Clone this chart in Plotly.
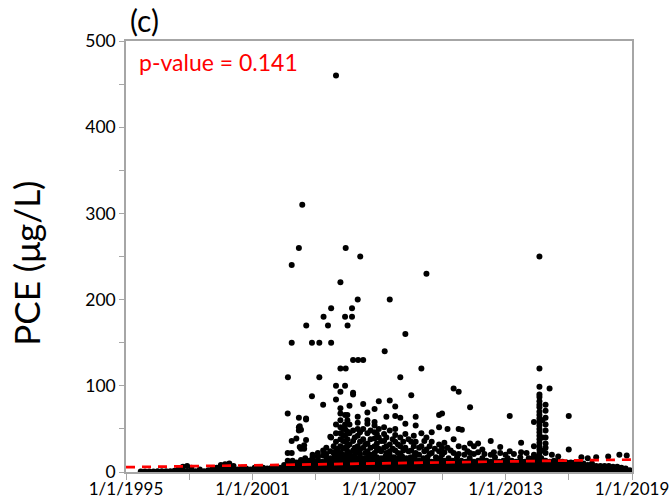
import plotly.graph_objects as go

# ---------------- data ----------------
x_tick_years = [1995, 1998, 2001, 2004, 2007, 2010, 2013, 2016, 2019]
x_tick_labels = ["1/1/1995", "", "1/1/2001", "", "1/1/2007", "", "1/1/2013", "", "1/1/2019"]
y_tick_vals = [0, 100, 200, 300, 400, 500]
y_minor_vals = [50, 150, 250, 350, 450]

# dense low-concentration band: sampling date (decimal year) -> concentrations
band_years = [
    1995.7, 1995.9, 1996.1, 1996.3, 1996.5, 1996.7, 1996.9, 1997.1, 1997.3, 1997.5,
    1997.7, 1997.9, 1998.1, 1998.3, 1998.5, 1998.7, 1998.9, 1999.1, 1999.3, 1999.5,
    1999.7, 1999.9, 2000.1, 2000.3, 2000.5, 2000.7, 2000.9, 2001.1, 2001.3, 2001.5,
    2001.7, 2001.9, 2002.1, 2002.3,
    2002.5, 2002.7, 2002.9, 2003.1, 2003.3, 2003.5, 2003.7, 2003.9, 2004.1, 2004.3,
    2004.5, 2004.7, 2004.9, 2005.1, 2005.3, 2005.5, 2005.7, 2005.9, 2006.1, 2006.3,
    2006.5, 2006.7, 2006.9, 2007.1, 2007.3, 2007.5, 2007.7, 2007.9, 2008.1, 2008.3,
    2008.5, 2008.7, 2008.9, 2009.1, 2009.3, 2009.5, 2009.7, 2009.9, 2010.1, 2010.3,
    2010.5, 2010.7, 2010.9, 2011.1, 2011.3, 2011.5, 2011.7, 2011.9, 2012.1, 2012.3,
    2012.5, 2012.7, 2012.9, 2013.1, 2013.3, 2013.5, 2013.7, 2013.9, 2014.1, 2014.3,
    2014.5, 2014.7, 2014.9, 2015.1, 2015.3, 2015.5, 2015.7, 2015.9,
    2016.1, 2016.3, 2016.5, 2016.7, 2016.9, 2017.1, 2017.3, 2017.5, 2017.7, 2017.9,
    2018.1, 2018.3, 2018.5, 2018.7, 2018.9,
]
band_conc = [
    [0.5], [0.5], [0.5], [0.5], [0.8], [0.8], [1], [1], [1.5], [1, 4],
    [1, 6], [1, 7], [1, 5], [1], [1, 3], [1], [1, 2], [1, 4], [1, 5], [1, 4, 8],
    [1, 6, 9], [1, 5, 10], [1, 4, 7], [1, 3], [1, 5], [1, 4], [1, 3], [1, 5], [1, 4], [1, 5],
    [1, 4], [1, 5], [1, 4], [1, 5],
    [1, 4, 8], [1, 4, 8, 12], [1, 5, 9, 13], [1, 4, 8, 11], [1, 5, 9, 14], [1, 4, 8, 12, 16],
    [1, 5, 9, 13], [1, 4, 8, 12], [1, 5, 9, 14, 18], [1, 4, 8, 12],
    [1, 5, 9, 13, 17], [1, 4, 8, 12, 16], [1, 5, 9, 13, 18], [1, 4, 8, 12, 16, 20],
    [1, 5, 9, 13, 17], [1, 4, 8, 12, 16, 20], [1, 5, 9, 13, 17], [1, 4, 8, 12, 16],
    [1, 5, 9, 13, 17, 21], [1, 4, 8, 12, 16],
    [1, 5, 9, 13, 18], [1, 4, 8, 12, 16, 20], [1, 5, 9, 13, 17], [1, 4, 8, 12, 16],
    [1, 5, 9, 13, 18], [1, 4, 8, 12, 16, 20], [1, 5, 9, 13, 17], [1, 4, 8, 12, 16],
    [1, 5, 9, 13, 18], [1, 4, 8, 12, 16],
    [1, 5, 9, 13, 17], [1, 4, 8, 12, 16, 20], [1, 5, 9, 13], [1, 4, 8, 12, 16],
    [1, 5, 9, 13, 17], [1, 4, 8, 12], [1, 5, 9, 13, 17], [1, 4, 8, 12, 16],
    [1, 5, 9, 13], [1, 4, 8, 12, 16],
    [1, 5, 9, 13], [1, 4, 8, 12, 17], [1, 5, 9, 13], [1, 4, 8, 12], [1, 5, 9, 13, 16],
    [1, 4, 8, 12], [1, 5, 9, 13], [1, 4, 8, 12, 16], [1, 5, 9, 13], [1, 4, 8, 12],
    [1, 5, 9, 13, 17], [1, 4, 8, 12], [1, 5, 9, 13], [1, 4, 8, 12, 16], [1, 5, 9, 13],
    [1, 4, 8, 12], [1, 5, 9, 13, 17], [1, 4, 8, 12], [1, 5, 9, 13, 16], [1, 4, 8, 12, 16],
    [1, 5, 9, 13, 17], [1, 4, 8, 12, 16], [1, 5, 9, 13], [1, 4, 8, 12], [1, 5, 9, 13],
    [1, 4, 8, 12], [1, 5, 9, 12], [1, 4, 8, 11],
    [1, 4, 8, 11], [1, 4, 8, 11], [1, 4, 8, 10], [1, 4, 8, 10], [1, 4, 8], [1, 4, 7, 10],
    [1, 4, 7], [1, 4, 7], [1, 4, 7], [1, 4, 7],
    [1, 3, 6], [1, 3, 6], [1, 3, 5], [1, 3, 4], [1, 2],
]

# moderate concentrations (about 15-90 ug/L)
mid_years = [
    2002.67, 2002.86, 2003.08, 2003.2, 2003.24, 2003.3, 2003.45, 2003.54, 2003.85, 2004.1,
    2004.35, 2004.5, 2004.69, 2004.73, 2004.85, 2004.96, 2005.05, 2005.17, 2005.3, 2005.39,
    2005.5, 2005.6, 2005.77, 2005.85, 2005.99, 2006.1, 2006.25, 2006.35, 2006.45, 2006.6,
    2006.79, 2006.9, 2006.99, 2007.1, 2007.24, 2007.35, 2007.51, 2007.65, 2007.77, 2007.9,
    2008.01, 2008.15, 2008.25, 2008.4, 2008.53, 2008.65, 2008.74, 2008.9, 2009.01, 2009.15,
    2009.25, 2009.4, 2009.5, 2009.65, 2009.85, 2009.99, 2010.1, 2010.25, 2010.4, 2010.54,
    2010.78, 2010.93, 2011.05, 2011.2, 2011.32, 2011.5, 2011.7, 2011.9, 2012.0, 2012.3,
    2012.45, 2012.75, 2013.0, 2013.2, 2013.4, 2013.74, 2014.0, 2014.35, 2014.61, 2014.75,
    2014.9, 2015.2, 2015.5, 2016.0, 2016.6, 2016.9, 2017.3, 2017.87, 2018.4, 2018.75,
]
mid_conc = [
    [68, 22, 13], [36, 22], [39], [63, 52, 48], [53, 29], [49, 27], [27, 31], [62, 37, 61], [20, 17], [22, 18],
    [78, 25, 19], [28, 21], [41, 24], [40], [30, 22], [84, 55, 45, 35, 25], [27, 20],
    [93, 74, 68, 60, 52, 45, 38, 30, 22], [50, 43, 36, 27, 20], [66, 55, 50, 42, 35, 28],
    [66, 60, 47, 38, 30, 24], [77, 55, 45, 32, 22], [92, 90, 48, 36, 25], [40, 28, 20],
    [64, 57, 50, 42, 30, 23], [46, 35, 26], [79, 50, 38, 28], [32, 22], [69, 60, 56, 45, 33, 24],
    [48, 38, 28, 20],
    [73, 58, 54, 46, 39, 30, 22], [44, 33, 25], [82, 50, 40, 27], [36, 24], [52, 44, 36, 28],
    [64, 40, 30, 22], [83, 48, 32, 24], [38, 27], [76, 65, 50, 43, 35, 25], [32, 22],
    [63, 40, 30, 21], [35, 25], [56, 44, 28], [38, 24], [89, 35, 25], [42, 30], [64, 54, 35, 22],
    [28, 20], [45, 30], [36, 24],
    [40, 26], [30, 21], [46, 35, 22], [27], [66, 52, 32, 24], [68, 28, 20], [34, 23], [50, 28],
    [25], [38, 22],
    [50, 30, 21], [49], [28, 20], [24], [75, 33, 22], [30, 21], [33, 23], [26], [21], [36, 20],
    [23], [29, 22], [20], [65, 24], [21], [34, 23], [22], [58, 30, 20],
    [90, 87, 82, 78, 75, 70, 66, 62, 58, 54, 50, 46, 42, 38, 34, 30, 26, 22, 18], [60, 40, 25],
    [78, 71, 63, 55, 48, 40, 33, 28, 22], [20], [18], [65, 26], [17], [16], [17], [18], [20], [19],
]

# high concentrations (>= ~95 ug/L)
high_years = [
    2002.68, 2002.86, 2003.2, 2003.36, 2003.55, 2003.82, 2004.17, 2004.37, 2004.58, 2004.73,
    2004.96, 2005.17, 2005.39, 2005.42, 2005.51, 2005.72, 2005.77, 2005.99, 2006.01, 2006.11,
    2006.25, 2007.27, 2007.51, 2008.01, 2008.25, 2009.01, 2009.25, 2010.54, 2010.78, 2014.61,
    2015.09,
]
high_conc = [
    [110], [240, 150], [260], [310], [170], [150, 88], [150, 110], [180], [170], [190, 150],
    [460, 100], [220, 120], [180, 100], [260, 120], [170], [190, 180], [130], [200], [130], [250],
    [130], [140], [200], [110], [160], [120], [230], [97], [93], [250, 120, 99],
    [97],
]

# linear trend line (ends at the axis limits)
trend_years = [1995, 2019]
trend_conc = [5.6, 14.4]

# ---------------- build ----------------
def flatten(years, conc):
    xs, ys = [], []
    for yr, vals in zip(years, conc):
        for v in vals:
            xs.append(yr)
            ys.append(v)
    return xs, ys

bx, by = flatten(band_years, band_conc)
mx, my = flatten(mid_years, mid_conc)
hx, hy = flatten(high_years, high_conc)

FONT = "Lato"
AXIS_COLOR = "#a6a6a6"

fig = go.Figure()
fig.add_trace(go.Scatter(
    x=bx + mx + hx, y=by + my + hy, mode="markers",
    marker=dict(color="black", size=6, line=dict(width=0)),
    hoverinfo="skip", showlegend=False,
))
fig.add_trace(go.Scatter(
    x=trend_years, y=trend_conc, mode="lines",
    line=dict(color="#ff0000", width=2.7, dash="9px,7px"),
    hoverinfo="skip", showlegend=False,
))

fig.update_layout(
    template="none",
    width=671, height=501,
    margin=dict(l=126, r=39, t=41, b=29, pad=0),
    paper_bgcolor="white", plot_bgcolor="white",
    showlegend=False,
    font=dict(family=FONT, color="black"),
    xaxis=dict(
        range=[1995, 2019], tickmode="array", tickvals=x_tick_years, ticktext=x_tick_labels,
        ticks="outside", ticklen=6, tickwidth=1.3, tickcolor=AXIS_COLOR,
        ticklabelstandoff=-5,
        showline=True, linecolor=AXIS_COLOR, linewidth=1.6, mirror=True,
        showgrid=False, zeroline=False, automargin=False,
        tickfont=dict(family=FONT, size=17, color="black"),
    ),
    yaxis=dict(
        range=[0, 500], tickmode="array", tickvals=y_tick_vals,
        ticks="outside", ticklen=5, tickwidth=1.3, tickcolor=AXIS_COLOR,
        minor=dict(tickmode="array", tickvals=y_minor_vals, ticks="outside", ticklen=5,
                   tickwidth=1.3, tickcolor=AXIS_COLOR, showgrid=False),
        showline=True, linecolor=AXIS_COLOR, linewidth=1.6, mirror=True,
        showgrid=False, zeroline=False, automargin=False,
        tickfont=dict(family=FONT, size=17.5, color="black"),
    ),
    annotations=[
        dict(text="PCE (μg/L)", textangle=-90, xref="paper", yref="paper",
             x=-0.197, y=0.484, xanchor="center", yanchor="middle", showarrow=False,
             font=dict(family=FONT, size=35, color="black")),
        dict(text="(c)", xref="paper", yref="paper", x=0.037, y=1.048,
             xanchor="center", yanchor="middle", showarrow=False,
             font=dict(family=FONT, size=30, color="black")),
        dict(text="p-value = 0.141", xref="paper", yref="paper", x=0.0223, y=0.9506,
             xanchor="left", yanchor="middle", showarrow=False,
             font=dict(family=FONT, size=23, color="#ff0000")),
    ],
)

fig.write_html("out.html")
